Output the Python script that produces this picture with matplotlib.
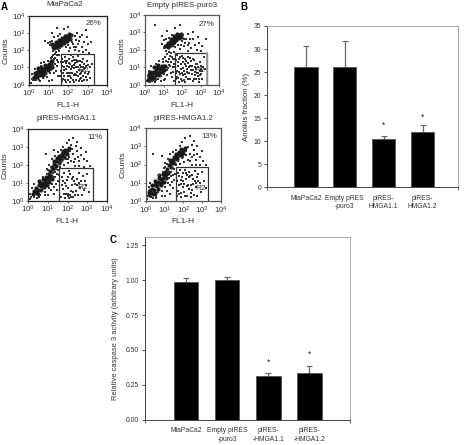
import matplotlib
matplotlib.use("Agg")
import matplotlib.pyplot as plt
import numpy as np

plt.rcParams['font.family'] = ['Liberation Sans', 'DejaVu Sans']
plt.rcParams['mathtext.default'] = 'regular'
W, H = 465, 445
FS = 5.7
FS_BAR = 4.9
TXT = '#333333'

# ---- flow-cytometry panels, values are log10 decades
TITLES = ['MiaPaCa2', 'Empty pIRES-puro3', 'pIRES-HMGA1.1', 'pIRES-HMGA1.2']
PERCENTS = ['26%', '27%', '11%', '13%']
GATES = [(1.62, 3.34, 1.78), (1.60, 3.33, 1.81), (1.58, 3.29, 1.80), (1.59, 3.33, 1.86)]
R2_POS = [(2.77, .80), (2.97, .79), (2.77, .72), (2.92, .71)]
PCT_POS = [(.83, .88), (.83, .86), (.85, .88), (.84, .877)]

CORE_1 = [(.25,.45),(.35,.6),(.45,.65),(.5,.8),(.6,.7),(.65,.9),(.7,.75),(.8,.95),(.85,1.1),(.95,1.05),(1.0,1.2),(1.1,1.2),(1.2,1.35),
          (.55,.55),(.75,.8),(.9,.95),(.4,.75),(1.05,1.1),(1.25,2.2),(1.35,2.3),(1.4,2.2),(1.5,2.35),(1.55,2.45),(1.65,2.45),
          (1.7,2.55),(1.8,2.6),(1.85,2.7),(1.95,2.7),(2.05,2.8),(2.15,2.9),(1.45,2.4),(1.6,2.35),(1.75,2.5),(1.9,2.8),
          (.4,.45),(.55,.8),(.7,.55),(.8,.7),(.95,.85),(.6,1.0),(.8,1.15),(1.0,.95),(1.15,1.05),(.45,.95),(.3,.7),(1.1,1.35),
          (1.5,2.2),(1.65,2.3),(1.8,2.4),(1.95,2.55),(2.1,2.65),(1.4,2.45),(1.55,2.6),(1.7,2.7),(1.85,2.85),(2.05,2.95),(1.3,2.1),(1.2,2.35)]
SPARSE_1 = [(1.7,.2),(1.8,.5),(1.9,.9),(2.0,.3),(2.1,1.2),(2.2,.7),(2.3,.15),(2.4,1.0),(2.5,.5),(2.6,1.4),(2.7,.8),(2.8,.3),(2.9,1.1),
            (3.0,.6),(3.1,1.0),(1.75,1.3),(1.85,1.6),(1.95,1.1),(2.05,1.5),(2.15,.4),(2.25,1.6),(2.35,.6),(2.45,1.3),(2.55,.2),
            (2.65,1.0),(2.75,1.5),(2.85,.7),(2.95,1.4),(1.65,.8),(1.7,1.5),(1.8,1.0),(1.9,.15),(2.0,.7),(2.1,.5),(2.2,1.4),
            (2.3,.95),(2.4,.3),(2.5,1.65),(2.6,.6),(2.7,.2),(2.8,1.2),(3.1,.4),(3.2,1.2),(2.05,1.0),(2.35,1.25),(1.75,.65),
            (1.85,.3),(2.15,.9),(2.25,.25),(2.55,.85),(2.65,.4),(2.45,.75),(1.95,1.4),(2.75,1.05),(2.15,1.7),
            (.1,.1),(.2,.3),(.15,.6),(.3,.9),(.35,.25),(.5,.3),(.6,1.1),(.7,.4),(.75,1.3),(.85,.6),(.95,1.4),(1.05,.7),(1.1,1.55),
            (1.2,.9),(1.25,1.7),(1.35,1.2),(1.4,1.9),(1.45,1.45),(1.5,.5),(1.55,1.7),(1.3,1.5),(1.15,.3),(1.4,.8),(1.0,.2),(1.5,2.05),
            (.95,2.4),(1.05,2.5),(1.1,2.35),(1.2,2.55),(1.3,2.75),(1.5,2.8),(1.6,2.95),(1.2,3.0),(1.8,3.2),(1.45,3.3),(2.0,3.35),(.8,2.55),
            (1.9,2.2),(2.0,2.3),(2.1,2.1),(2.2,2.5),(2.3,2.2),(2.4,2.6),(2.5,2.35),(2.6,2.75),(2.7,2.2),(2.8,2.5),(2.9,2.0),(3.0,2.35),
            (2.35,2.0),(2.55,1.95),(2.75,1.9),(3.05,1.85),(2.2,2.85),(2.45,3.0),(2.7,2.9),(2.95,2.75),(3.15,2.5),(2.05,1.95),(2.9,3.15),
            (1.68,1.1),(1.78,.85),(1.88,1.25),(1.98,.5),(2.08,.15),(2.18,1.1),(2.28,.55),(2.38,1.45),(2.48,1.0),(2.58,1.15),(2.68,.65),
            (2.78,.5),(2.88,.95),(2.98,.25),(3.08,.75),(1.72,.35),(1.82,1.4),(1.92,.7),(2.02,1.25),(2.12,.7),(2.22,1.0),(2.32,1.45),
            (2.42,.55),(2.52,1.4),(2.62,.35),(2.72,1.3),(2.82,.9),(2.92,.45),(3.02,1.15),(2.28,1.15),(1.62,1.3),(1.6,.5),
            (1.25,1.1),(1.35,1.55),(1.45,1.1),(1.3,.65),(1.2,1.6),(1.1,.85),(1.5,1.3),(.9,.45),(.55,.2),(.25,.25),(.15,.35),(.6,1.25),
            (1.45,1.7),(1.35,1.8),(1.55,1.95),(1.6,2.1),(1.25,1.95),(1.05,2.3),(2.25,2.35),(2.4,2.2),(2.55,2.55),(2.15,2.65),(2.35,2.8)]

CORE_2 = [(.2,.4),(.3,.55),(.4,.5),(.45,.75),(.55,.65),(.6,.85),(.7,.7),(.75,.95),(.85,.9),(.9,1.1),(1.0,1.05),(.3,.3),(.5,.4),
          (.65,1.0),(.8,.8),(.35,.7),(1.1,2.2),(1.2,2.3),(1.3,2.25),(1.35,2.45),(1.45,2.5),(1.5,2.4),(1.6,2.6),(1.65,2.7),
          (1.75,2.75),(1.85,2.85),(1.95,2.9),(1.25,2.4),(1.55,2.65),
          (.15,.25),(.4,.3),(.6,.55),(.75,.55),(.9,.75),(1.05,.85),(.2,.6),(.5,1.0),(.7,1.15),(.95,.95),(1.1,1.1),(.25,.75),
          (1.25,2.15),(1.4,2.3),(1.55,2.45),(1.7,2.55),(1.85,2.7),(1.4,2.6),(1.55,2.8),(1.75,2.9),(1.95,2.75)]
SPARSE_2 = [(1.65,.3),(1.75,.8),(1.85,.15),(1.95,1.2),(2.05,.55),(2.15,1.5),(2.25,.9),(2.35,.3),(2.45,1.1),(2.55,.6),(2.65,1.4),(2.75,.9),
            (2.85,.5),(2.95,.8),(3.05,.6),(3.15,1.0),(1.7,1.4),(1.8,1.1),(1.9,.6),(2.0,1.65),(2.1,.25),(2.2,1.1),(2.3,1.6),(2.4,.7),
            (2.5,1.35),(2.6,.2),(2.7,.55),(2.8,1.2),(2.9,.3),(3.0,1.05),(1.68,.65),(1.72,1.7),(1.82,1.45),(1.92,.9),(2.02,.2),(2.12,.8),
            (2.22,.45),(2.32,1.25),(2.42,1.55),(2.62,.85),(2.72,.75),(2.82,.7),(2.95,.55),(3.1,.35),(2.05,1.3),(1.8,.4),
            (.08,.2),(.15,.5),(.2,.8),(.3,1.05),(.4,.2),(.55,.15),(.6,1.2),(.7,.35),(.75,1.35),(.85,.5),(.95,1.45),(1.05,.6),(1.1,1.6),
            (1.2,.85),(1.25,1.3),(1.35,1.05),(1.4,1.8),(1.45,.45),(1.5,1.5),(1.3,1.9),(1.15,1.95),(1.55,1.2),(1.4,.7),(1.0,.25),(1.55,.2),
            (.9,2.35),(1.0,2.55),(1.05,2.1),(1.15,2.6),(1.3,2.7),(1.45,2.85),(1.2,3.1),(.9,2.8),(1.6,3.25),(.55,3.4),(1.9,3.4),
            (2.0,2.5),(2.1,2.2),(2.2,2.6),(2.3,1.95),(2.4,2.4),(2.5,2.1),(2.6,2.6),(2.7,2.25),(2.8,2.0),(2.9,2.4),(3.0,1.95),(3.1,2.2),
            (2.05,2.85),(2.3,2.9),(2.6,3.0),(2.85,2.75),(1.8,2.25),(1.9,2.05),(3.2,1.6),(3.25,.9),(3.3,2.6),
            (1.64,1.0),(1.74,.45),(1.84,.75),(1.94,.35),(2.04,.95),(2.14,1.2),(2.24,1.35),(2.34,.65),(2.44,.3),(2.54,1.05),(2.64,.35),
            (2.74,1.2),(2.84,1.0),(2.94,.15),(3.04,.9),(1.78,1.3),(1.88,1.6),(1.98,.7),(2.08,1.55),(2.18,.15),(2.28,.75),(2.38,1.0),
            (2.48,.85),(2.58,1.5),(2.68,1.0),(2.78,.3),(2.88,.65),(2.98,1.3),(3.08,.8),(2.18,.6),
            (1.2,.55),(1.3,1.15),(1.4,1.3),(1.5,1.0),(1.45,1.6),(1.35,1.65),(1.25,.95),(1.15,1.35),(1.1,.3),(.85,.2),(.6,.25),(.25,.15),
            (1.3,1.45),(1.5,.75),(1.55,1.85),(1.6,1.5),(1.2,1.75),(.95,1.3),(1.6,2.15),(1.5,2.2),(2.15,2.4),(2.3,2.25),(2.45,2.65),(1.95,2.3),(2.1,2.6)]

CORE_3 = [(.25,.35),(.35,.5),(.4,.7),(.5,.6),(.55,.85),(.65,.8),(.7,1.0),(.8,.95),(.85,1.15),(.95,1.2),(1.05,1.3),(1.15,1.4),(.3,.55),
          (.45,.45),(.6,1.0),(.9,1.0),(1.1,1.65),(1.2,1.9),(1.3,2.05),(1.4,2.2),(1.5,2.35),(1.55,2.3),(1.65,2.45),(1.7,2.6),(1.8,2.65),
          (1.9,2.75),(2.0,2.85),(2.1,2.95),(1.45,2.4),(1.75,2.75),
          (.5,.4),(.65,.6),(.8,.75),(.95,.9),(1.05,1.05),(.75,1.2),(.9,1.35),(1.05,1.5),(.55,1.1),(1.2,1.2),
          (1.25,1.75),(1.4,1.95),(1.55,2.1),(1.65,2.25),(1.8,2.45),(1.95,2.6),(1.55,2.5),(1.85,2.85),(1.3,2.2)]
SPARSE_3 = [(1.65,.2),(1.75,.65),(1.85,.15),(1.95,1.15),(2.05,.4),(2.15,1.5),(2.25,.85),(2.4,.3),(2.5,1.2),(2.65,.7),(2.8,1.4),(2.95,.9),
            (3.1,.5),(1.7,1.3),(1.85,1.0),(2.0,.7),(2.1,1.65),(2.2,.2),(2.35,1.1),(2.45,.55),(2.6,1.55),(2.75,.3),(2.9,1.1),(3.0,1.5),
            (1.9,.35),(2.05,.25),(2.15,.3),(2.3,.5),(2.5,.85),(1.8,1.55),(2.3,1.35),(2.6,1.0),
            (.08,.1),(.1,.35),(.2,.7),(.3,.95),(.45,.15),(.6,.3),(.7,.55),(.75,1.35),(.85,.5),(.95,1.5),(1.05,.7),(1.1,1.15),(1.2,.95),
            (1.25,1.55),(1.35,1.3),(1.4,1.75),(1.45,.6),(1.5,1.1),(1.3,.4),(1.0,.3),(1.55,1.45),(.95,1.75),(1.05,2.0),(1.2,2.3),(1.35,2.5),
            (1.5,2.7),(1.65,2.85),(1.3,2.85),(.9,2.6),(1.75,3.0),(1.95,3.2),(2.1,3.4),(2.3,3.5),(2.5,3.3),(1.7,2.2),(1.8,2.0),(1.9,2.3),
            (2.0,2.1),(2.1,2.45),(2.2,2.2),(2.3,2.6),(2.4,2.35),(2.5,2.75),(2.6,2.2),(2.7,2.55),(2.85,2.35),(3.0,2.2),(3.15,1.95),(2.4,1.95),
            (2.6,1.95),(2.85,1.9),(2.25,2.9),(2.45,3.05),(2.7,2.95),(2.95,2.7),(2.2,3.1),(1.6,1.9),(1.55,2.05),
            (1.7,.85),(1.8,.35),(1.9,.8),(2.0,1.3),(2.1,.15),(2.2,.55),(2.3,.2),(2.4,.95),(2.55,.3),(2.7,1.1),(2.85,.6),(1.75,1.1),(2.25,1.2),
            (1.3,.75),(1.15,.6),(1.45,1.5),(1.35,1.6),(1.5,1.7),(1.25,1.3),(1.4,.95),(.85,.3),(.55,.2),(.3,.2),(.15,.2),(1.0,1.7),(1.15,1.9),
            (1.75,2.35),(2.0,2.35),(2.15,2.75),(2.35,2.15),(2.55,2.45)]

CORE_4 = [(.2,.35),(.3,.45),(.35,.65),(.45,.6),(.5,.85),(.6,.8),(.65,1.05),(.75,1.0),(.8,1.2),(.9,1.25),(1.0,1.4),(1.1,1.5),(.25,.6),
          (.4,.4),(.55,1.0),(.7,1.25),(.85,1.05),(1.15,1.75),(1.25,1.95),(1.35,2.1),(1.45,2.25),(1.55,2.35),(1.6,2.45),(1.7,2.55),
          (1.8,2.65),(1.9,2.7),(2.0,2.8),(2.1,2.9),(1.5,2.4),(1.75,2.7),(1.05,1.6),
          (.5,.45),(.65,.65),(.8,.85),(.95,1.05),(1.1,1.25),(.5,1.1),(.7,1.4),(.9,1.5),(.35,.85),(1.2,1.55),(.15,.5),
          (1.35,1.85),(1.5,2.1),(1.65,2.3),(1.85,2.5),(2.0,2.65),(1.3,2.25),(1.6,2.6),(1.9,2.85)]
SPARSE_4 = [(1.65,.3),(1.75,.85),(1.85,.2),(1.95,1.3),(2.05,.5),(2.15,1.55),(2.25,.9),(2.4,.2),(2.5,1.2),(2.65,.75),(2.8,1.5),(2.95,.5),
            (3.1,1.1),(1.7,1.55),(1.85,1.15),(2.0,.75),(2.1,1.7),(2.2,.3),(2.35,1.35),(2.45,.6),(2.6,1.65),(2.75,.3),(2.9,1.0),(3.0,1.6),
            (1.9,.45),(2.05,.95),(2.15,1.2),(2.3,.65),(2.5,.95),(1.8,1.7),(2.3,1.6),(2.6,1.1),(1.7,.55),(2.7,1.3),(3.2,.7),
            (.05,.1),(.1,.3),(.15,.75),(.25,1.0),(.4,.15),(.55,.25),(.65,.5),(.7,1.45),(.85,.55),(.9,1.6),(1.05,.75),(1.1,1.2),(1.2,1.0),
            (1.25,1.6),(1.35,1.35),(1.4,1.85),(1.45,.7),(1.5,1.15),(1.3,.4),(1.0,.3),(1.55,1.5),(.95,1.8),(1.0,2.1),(1.2,2.3),(1.3,2.55),
            (1.45,2.7),(1.6,2.8),(.4,2.55),(.85,2.45),(1.8,3.0),(1.95,3.25),(2.1,3.45),(2.35,3.55),(2.55,3.3),(1.7,2.2),(1.8,2.05),(1.95,2.35),
            (2.05,2.15),(2.15,2.5),(2.25,2.25),(2.35,2.6),(2.45,2.4),(2.55,2.8),(2.65,2.25),(2.75,2.6),(2.9,2.4),(3.05,2.2),(3.2,2.0),(2.45,2.0),
            (2.65,1.95),(2.9,1.95),(2.25,2.95),(2.45,3.05),(2.7,3.0),(3.0,2.75),(1.6,1.95),(1.55,2.1),
            (1.68,1.1),(1.78,.4),(1.88,.95),(1.98,1.55),(2.08,.25),(2.18,.8),(2.28,1.3),(2.38,.45),(2.48,1.45),(2.58,.35),(2.68,1.0),(2.78,1.1),
            (1.75,1.35),(2.0,1.1),(2.2,1.45),(2.4,.85),
            (1.3,.85),(1.15,.55),(1.45,1.4),(1.35,1.6),(1.5,1.75),(1.25,1.25),(1.4,1.05),(.85,.25),(.55,.15),(.3,.2),(1.0,1.85),(1.15,2.05),
            (1.75,2.4),(2.0,2.4),(2.15,2.75),(2.35,2.2),(2.55,2.5)]

CORES = [CORE_1, CORE_2, CORE_3, CORE_4]
SPARSES = [SPARSE_1, SPARSE_2, SPARSE_3, SPARSE_4]

# ---- bar panels
BAR_LABELS_B = ['MiaPaCa2', 'Empty pRES\n-puro3', 'piRES-\nHMGA1.1', 'piRES-\nHMGA1.2']
BAR_VALUES_B = [26.0, 26.2, 10.4, 12.1]
BAR_TOPS_B = [30.6, 31.7, 11.1, 13.6]
STARS_B = [None, None, 13.4, 15.2]

BAR_LABELS_C = ['MiaPaCa2', 'Empty pIRES\n-puro3', 'pIRES-\n-HMGA1.1', 'pIRES-\n-HMGA1.2']
BAR_VALUES_C = [0.99, 1.00, 0.31, 0.335]
BAR_TOPS_C = [1.015, 1.025, 0.335, 0.385]
STARS_C = [None, None, 0.41, 0.47]

fig = plt.figure(figsize=(W / 100, H / 100), dpi=100, facecolor='white')


def axes_px(left, top, right, bottom):
    return fig.add_axes([left / W, 1 - bottom / H, (right - left) / W, (bottom - top) / H])


def text_px(x, y, s, **kw):
    kw.setdefault('ha', 'center')
    kw.setdefault('va', 'center')
    kw.setdefault('fontsize', FS)
    kw.setdefault('color', TXT)
    fig.text(x / W, 1 - y / H, s, **kw)


RECTS = [(29, 15.7, 107.3, 84.7), (145, 15, 219, 84.7), (28.3, 129, 106.7, 200.7), (145.7, 128, 221, 201)]
TITLE_POS = [(65, 5), (182, 5.5), (66, 119), (183, 119)]
for i, r in enumerate(RECTS):
    ax = axes_px(*r)
    ax.set_xscale('log')
    ax.set_yscale('log')
    ax.set_xlim(1, 1e4)
    ax.set_ylim(1, 1e4)
    c = np.array(CORES[i])
    s = np.array(SPARSES[i])
    ax.scatter(10 ** c[:, 0], 10 ** c[:, 1], s=9, c='#1a1a1a', marker='o', linewidths=0)
    ax.scatter(10 ** s[:, 0], 10 ** s[:, 1], s=1.6, c='#333333', marker='s', linewidths=0)
    x0, x1, ytop = GATES[i]
    ax.plot([10 ** x0, 10 ** x0, 10 ** x1, 10 ** x1], [1, 10 ** ytop, 10 ** ytop, 1], color='#333333', lw=0.9)
    if i == 1:
        ax.plot([10 ** x1, 10 ** x1], [1, 10 ** ytop], color='#999999', lw=1.3)
    ax.text(10 ** R2_POS[i][0], 10 ** R2_POS[i][1], 'R2', fontsize=FS + 0.3, color=TXT, ha='center', va='center')
    ax.text(PCT_POS[i][0], PCT_POS[i][1], PERCENTS[i], transform=ax.transAxes, fontsize=FS, color=TXT, ha='center', va='center')
    ax.set_xticks([1, 10, 100, 1000, 10000])
    ax.set_yticks([1, 10, 100, 1000, 10000])
    ax.minorticks_off()
    ax.tick_params(labelsize=FS, length=1.5, width=0.5, pad=1, colors=TXT)
    for sp in ax.spines.values():
        sp.set_linewidth(0.9)
        sp.set_color('#222222' if i in (0, 2) else '#555555')
    text_px(TITLE_POS[i][0], TITLE_POS[i][1], TITLES[i])
    text_px((r[0] + r[2]) / 2 - 0.5, r[3] + 20.5, 'FL1-H', fontsize=FS + 0.3)
    text_px(r[0] - 23, (r[1] + r[3]) / 2 + 0.5, 'Counts', rotation=90, fontsize=FS + 0.3)


def bar_panel(rect, labels, values, tops, stars, ymax, yticks, fmt, ylabel, xlim, ylab_x, width, ylab_fs):
    ax = axes_px(*rect)
    xs = np.arange(len(values))
    vals = np.array(values)
    errs = np.array(tops) - vals
    ax.bar(xs, vals, width=width, color='black', edgecolor='#555555', linewidth=0.6, zorder=2)
    ax.errorbar(xs, vals, yerr=[np.zeros_like(errs), errs], fmt='none', ecolor='#666666',
                elinewidth=0.9, capsize=2, capthick=0.8, zorder=1)
    for x, st in zip(xs, stars):
        if st is not None:
            ax.text(x, st, '*', fontsize=FS + 0.5, ha='center', va='center', color='#222222')
    ax.set_xlim(*xlim)
    ax.set_ylim(0, ymax)
    ax.set_yticks(yticks)
    ax.set_yticklabels([fmt % t for t in yticks])
    ax.set_xticks(xs)
    ax.set_xticklabels(labels, linespacing=1.25)
    ax.tick_params(axis='x', length=0, pad=5.5, labelsize=FS_BAR, colors=TXT)
    ax.tick_params(axis='y', length=2.2, width=0.6, pad=2, labelsize=FS_BAR, colors=TXT)
    ax.set_xticks(list(xlim), minor=True)
    ax.tick_params(axis='x', which='minor', length=2.2, width=0.6, color='#444444')
    for k in ('left', 'bottom'):
        ax.spines[k].set_color('#444444')
        ax.spines[k].set_linewidth(0.7)
    for k in ('top', 'right'):
        ax.spines[k].set_color('#999999')
        ax.spines[k].set_linewidth(0.6)
    text_px(ylab_x, (rect[1] + rect[3]) / 2, ylabel, rotation=90, fontsize=ylab_fs)


bar_panel((267, 26, 458, 187.3), BAR_LABELS_B, BAR_VALUES_B, BAR_TOPS_B, STARS_B, 35,
          [0, 5, 10, 15, 20, 25, 30, 35], '%d', 'Anoikis fraction (%)', (-1.0, 3.91), 246.5, 0.6, 5.7)
bar_panel((145, 237, 350, 419.7), BAR_LABELS_C, BAR_VALUES_C, BAR_TOPS_C, STARS_C, 1.31,
          [0, .25, .5, .75, 1.0, 1.25], '%.2f', 'Relative caspase 3 activity (arbitrary units)', (-1.0, 3.99), 115, 0.6, 5.4)

text_px(4, 7.5, 'A', fontweight='bold', fontsize=7, color='black')
text_px(244, 7.5, 'B', fontweight='bold', fontsize=7, color='black')
text_px(113, 240, 'C', fontweight='bold', fontsize=7, color='black')

fig.savefig('out.png', dpi=100)
